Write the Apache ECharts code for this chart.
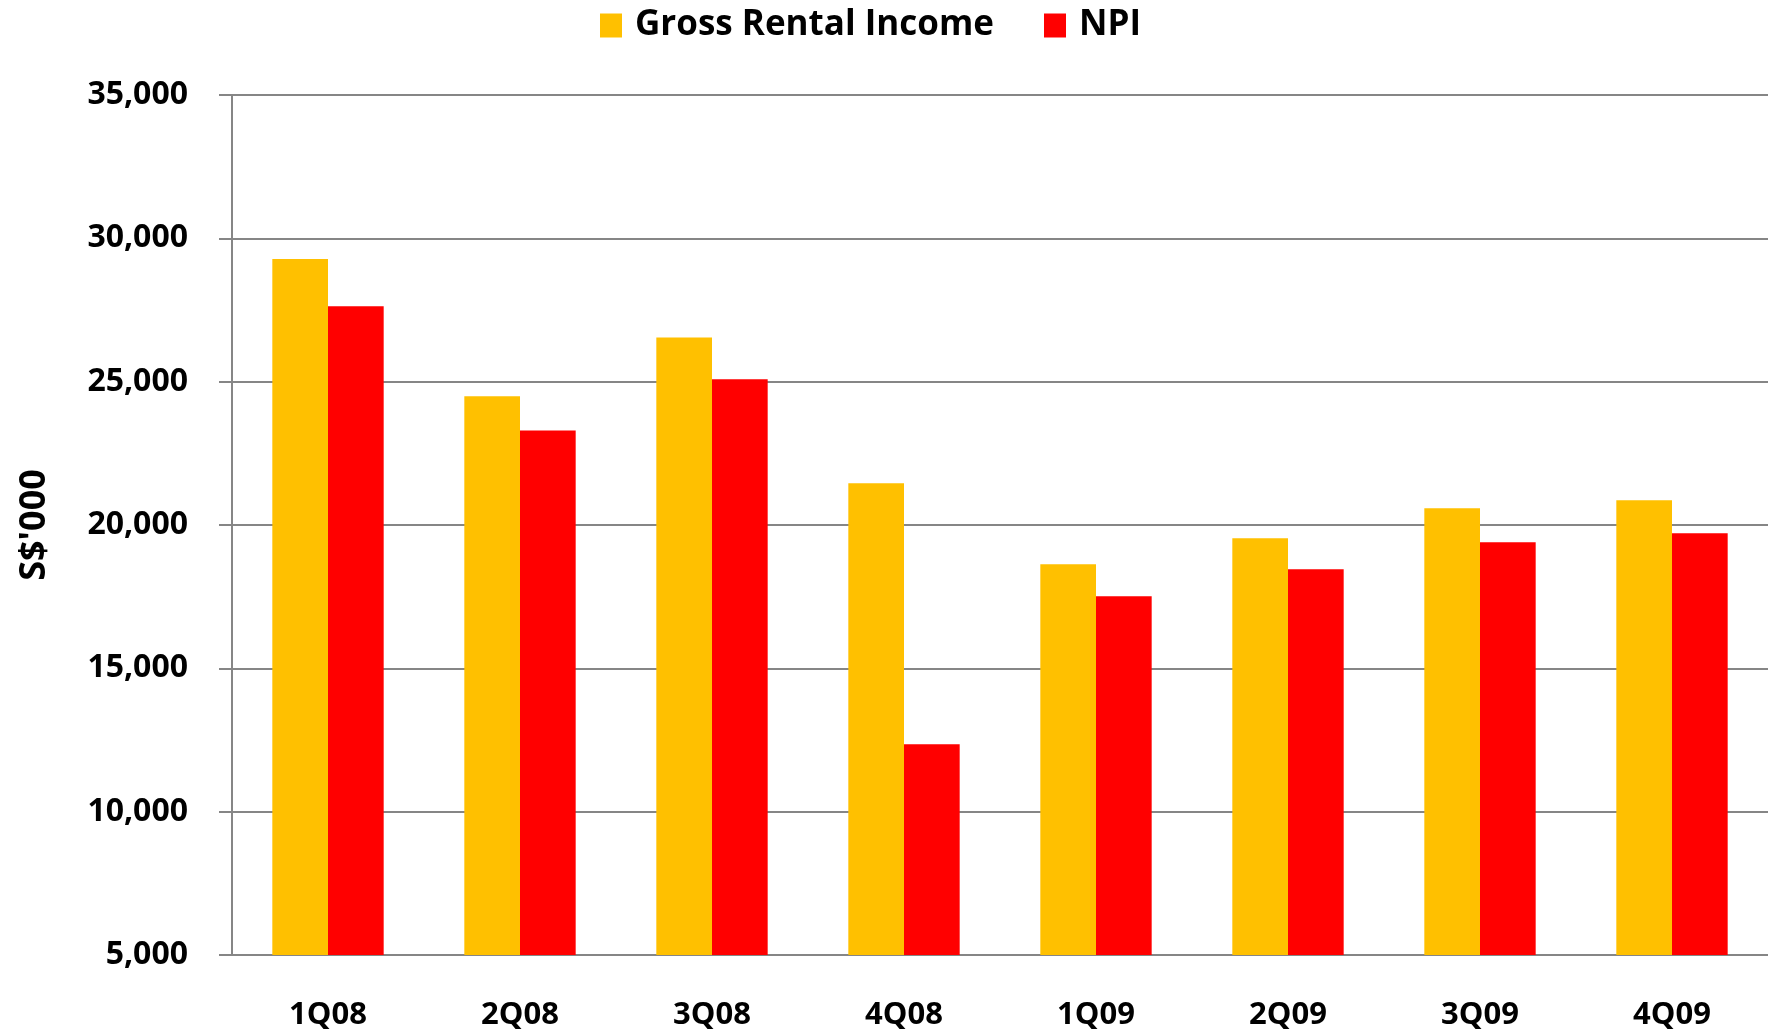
<!DOCTYPE html>
<html>
<head>
<meta charset="utf-8">
<script src="https://cdn.jsdelivr.net/npm/echarts@6/dist/echarts.min.js"></script>
<style>
html, body { margin: 0; padding: 0; background: #fff; }
#chart { width: 1768px; height: 1034px; }
</style>
</head>
<body>
<div id="chart"></div>
<script>
var quarters = ['1Q08', '2Q08', '3Q08', '4Q08', '1Q09', '2Q09', '3Q09', '4Q09'];
var grossRental = [29275, 24490, 26545, 21460, 18630, 19540, 20585, 20865];
var npi = [27635, 23300, 25080, 12350, 17515, 18455, 19400, 19715];
var yTicks = [5000, 10000, 15000, 20000, 25000, 30000, 35000];

var myChart = echarts.init(document.getElementById('chart'));
var gray = '#868686';
var font = '"Open Sans", Lato, sans-serif';

var option = {
    animation: false,
    color: ['#FFC000', '#FF0000'],
    textStyle: { fontFamily: font },
    legend: {
        data: ['Gross Rental Income', 'NPI'],
        left: 595,
        top: 3,
        icon: 'rect',
        itemWidth: 22,
        itemHeight: 24,
        itemGap: 50,
        textStyle: {
            fontSize: 35,
            fontWeight: 'bold',
            color: '#000',
            fontFamily: font,
            padding: [0, 0, 0, 8]
        }
    },
    grid: {
        left: 232,
        top: 95,
        width: 1539,
        bottom: 79
    },
    xAxis: {
        type: 'category',
        data: quarters,
        axisLine: { show: true, lineStyle: { color: gray, width: 2 } },
        axisTick: { show: false },
        axisLabel: {
            margin: 45,
            fontSize: 31,
            fontWeight: 'bold',
            color: '#000',
            fontFamily: font
        }
    },
    yAxis: {
        type: 'value',
        min: yTicks[0],
        max: yTicks[yTicks.length - 1],
        interval: 5000,
        name: "S$'000",
        nameLocation: 'middle',
        nameGap: 179,
        nameTextStyle: {
            fontSize: 36,
            fontWeight: 'bold',
            color: '#000',
            fontFamily: font
        },
        axisLine: { show: true, lineStyle: { color: gray, width: 2 } },
        axisTick: { show: true, length: 13, lineStyle: { color: gray, width: 2 } },
        splitLine: { show: true, lineStyle: { color: gray, width: 2 } },
        axisLabel: {
            margin: 44,
            fontSize: 32,
            fontWeight: 'bold',
            color: '#000',
            fontFamily: font,
            formatter: function (v) { return v.toLocaleString('en-US'); }
        }
    },
    series: [{
        name: 'Gross Rental Income',
        type: 'bar',
        data: grossRental,
        barGap: '0%',
        barCategoryGap: '42%'
    }, {
        name: 'NPI',
        type: 'bar',
        data: npi,
        barGap: '0%',
        barCategoryGap: '42%'
    }]
};

myChart.setOption(option);
</script>
</body>
</html>
